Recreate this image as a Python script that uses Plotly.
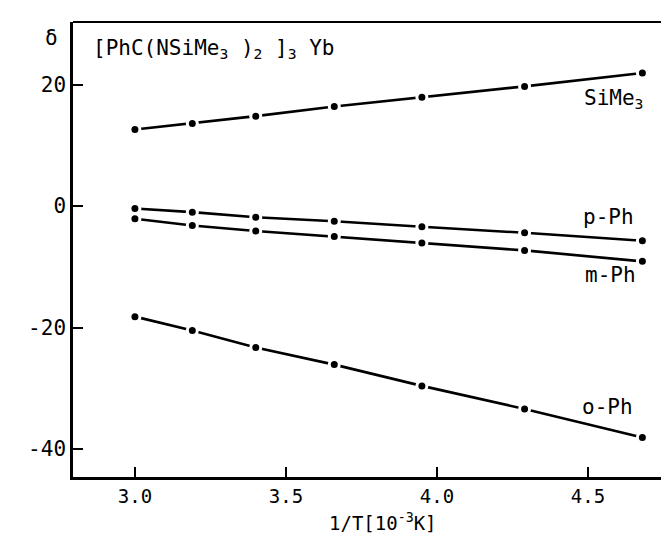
import plotly.graph_objects as go

# 1/T [10^-3 K^-1]
inv_T = [3.00, 3.19, 3.40, 3.66, 3.95, 4.29, 4.68]

sime3 = [12.6, 13.6, 14.8, 16.4, 17.9, 19.7, 21.9]
p_ph = [-0.4, -1.0, -1.85, -2.5, -3.4, -4.4, -5.7]
m_ph = [-2.1, -3.2, -4.1, -5.0, -6.1, -7.3, -9.1]
o_ph = [-18.2, -20.5, -23.3, -26.1, -29.6, -33.4, -38.1]

series_names = ["SiMe<sub>3</sub>", "p-Ph", "m-Ph", "o-Ph"]
series_values = [sime3, p_ph, m_ph, o_ph]
# label anchor positions (data coords) for the curve labels
label_x = [4.69, 4.66, 4.665, 4.655]
label_y = [17.7, -1.8, -11.3, -33.0]

x_ticks = [3.0, 3.5, 4.0, 4.5]
x_ticklabels = ["3.0", "3.5", "4.0", "4.5"]
y_ticks = [-40, -20, 0, 20]
y_ticklabels = ["-40", "-20", "0", "20"]

FONT = "DejaVu Sans Mono"
FS = 21

fig = go.Figure()
for name, vals in zip(series_names, series_values):
    fig.add_trace(go.Scatter(
        x=inv_T, y=vals, mode="lines+markers", name=name,
        line=dict(color="black", width=2.6),
        marker=dict(color="black", size=10, line=dict(color="white", width=3)),
        showlegend=False,
    ))

for name, lx, ly in zip(series_names, label_x, label_y):
    fig.add_annotation(x=lx, y=ly, text=name, showarrow=False,
                       xanchor="right", yanchor="middle",
                       font=dict(family=FONT, size=FS, color="black"))

# title inside plot and delta symbol
fig.add_annotation(xref="paper", yref="paper", x=0.03, y=0.94,
                   text="[PhC(NSiMe<sub>3</sub> )<sub>2</sub> ]<sub>3</sub> Yb",
                   showarrow=False, xanchor="left", yanchor="middle",
                   font=dict(family=FONT, size=FS, color="black"))
fig.add_annotation(xref="paper", yref="paper", x=-0.035, y=0.965,
                   text="δ", showarrow=False, xanchor="center", yanchor="middle",
                   font=dict(family=FONT, size=FS, color="black"))
# x-axis title
fig.add_annotation(xref="paper", yref="paper", x=0.515, y=-0.099,
                   text="1/T[10<sup>-3</sup>K]", showarrow=False,
                   xanchor="center", yanchor="middle", borderpad=0,
                   font=dict(family=FONT, size=19, color="black"))

# frame: top border and partial right border
fig.add_shape(type="line", xref="paper", yref="paper", x0=0, x1=1, y0=1, y1=1,
              line=dict(color="black", width=2))
fig.add_shape(type="line", xref="paper", yref="y", x0=1, x1=1, y0=30.3, y1=-10.5,
              line=dict(color="black", width=1.5))

fig.update_xaxes(range=[2.795, 4.788], tickvals=x_ticks, ticktext=x_ticklabels,
                 ticks="inside", ticklen=10, tickwidth=2, tickcolor="black",
                 showline=True, linecolor="black", linewidth=2.5,
                 showgrid=False, zeroline=False,
                 tickfont=dict(family=FONT, size=19, color="black"))
fig.update_yaxes(range=[-44.6, 30.3], tickvals=y_ticks, ticktext=y_ticklabels,
                 ticks="inside", ticklen=10, tickwidth=2, tickcolor="black",
                 showline=True, linecolor="black", linewidth=2.5,
                 showgrid=False, zeroline=False,
                 tickfont=dict(family=FONT, size=FS, color="black"))

fig.update_layout(width=669, height=533,
                  margin=dict(l=65, r=2, t=14, b=64),
                  plot_bgcolor="white", paper_bgcolor="white")

fig.write_html("out.html")
